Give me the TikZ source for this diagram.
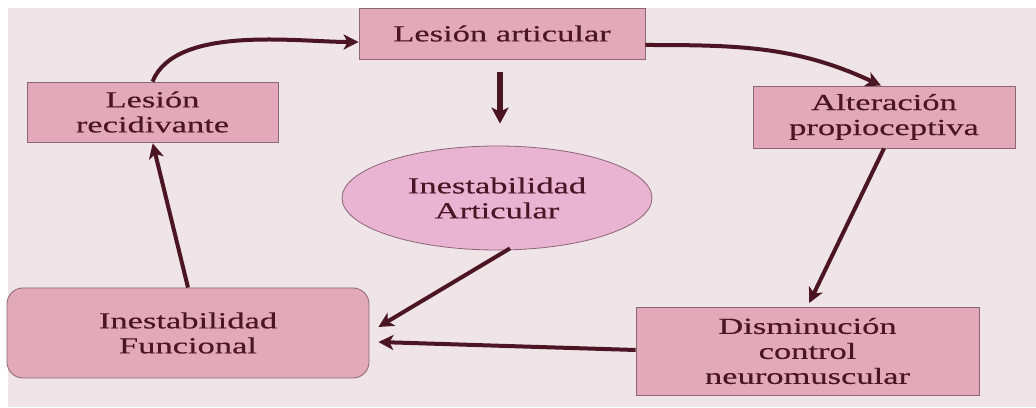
\documentclass[tikz,border=0pt]{standalone}
\usepackage{fontspec}
\setmainfont[FakeStretch=1.5,FakeBold=0.4]{Liberation Serif}
\usetikzlibrary{shapes.geometric,arrows.meta}
\definecolor{bgc}{HTML}{EFE4E7}
\definecolor{boxc}{HTML}{E2A9BA}
\definecolor{ellc}{HTML}{E8B4D2}
\definecolor{edgec}{HTML}{8C6674}
\definecolor{inkc}{HTML}{4B1525}
\tikzset{
  x=1pt,y=1pt,
  lbl/.style={font=\fontsize{23}{25}\selectfont, text=inkc, align=center, inner sep=0pt},
  rbox/.style={lbl, draw=edgec, line width=0.8pt, fill=boxc, rectangle},
  ebox/.style={lbl, draw=edgec, line width=0.8pt, fill=ellc, ellipse},
  arr/.style={draw=inkc, line width=4pt, -{Stealth[length=15pt,width=15pt,inset=4pt]}},
}
\begin{document}
\begin{tikzpicture}
\useasboundingbox (0,0) rectangle (1036,407);
\fill[white] (0,0) rectangle (1036,407);
\fill[bgc] (8,0) rectangle (1036,399);

\node[rbox, minimum width=286, minimum height=51] (la) at (502,373.5) {Lesión articular};
\node[rbox, minimum width=251, minimum height=60] (lr) at (152.5,295) {Lesión\\recidivante};
\node[rbox, minimum width=262, minimum height=62] (ap) at (884,290) {Alteración\\propioceptiva};
\node[ebox, minimum width=310, minimum height=104] (ia) at (497,209) {Inestabilidad\\Articular};
\node[rbox, rounded corners=16pt, minimum width=362, minimum height=90] (if) at (188,74) {Inestabilidad\\Funcional};
\node[rbox, minimum width=343, minimum height=88] (dc) at (807.5,56) {Disminución\\control\\neuromuscular};

\draw[arr, line width=5.5pt, -{Stealth[length=16pt,width=17pt,inset=4pt]}, shorten <=13pt, shorten >=22pt]
  ([xshift=-2pt]la.south) -- ([xshift=-2pt]la.south |- ia.north);
\draw[arr] (lr.north) to[out=68,in=180,looseness=0.75] ([yshift=-8.5pt]la.west);
\draw[arr] ([yshift=-11.5pt]la.east) to[out=0,in=155,looseness=1] ([xshift=-3pt]ap.north);
\draw[arr, shorten >=4pt] (ap.south) -- (dc.north);
\draw[arr] ([yshift=1pt]dc.west) -- ([xshift=9pt,yshift=-9pt]if.east);
\draw[arr] ([xshift=13pt,yshift=2pt]ia.south) -- ([xshift=9pt,yshift=6pt]if.east);
\draw[arr, shorten >=1pt] (if.north) -- (lr.south);
\end{tikzpicture}
\end{document}
